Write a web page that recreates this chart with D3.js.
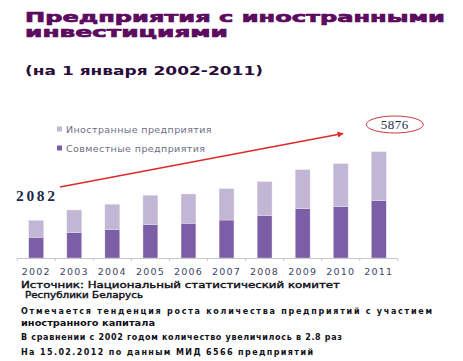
<!DOCTYPE html>
<html><head><meta charset="utf-8">
<script src="https://cdn.jsdelivr.net/npm/d3@7"></script>
<style>body{margin:0;background:#fff}svg{display:block}</style>
</head><body>
<script>
const years = ["2002","2003","2004","2005","2006","2007","2008","2009","2010","2011"];
const joint = [1145,1400,1565,1840,1920,2100,2340,2725,2835,3168];   // Совместные предприятия
const foreign = [937,1253,1403,1626,1618,1731,1878,2156,2378,2708]; // Иностранные предприятия
const seriesNames = ["Совместные предприятия","Иностранные предприятия"];
const startLabel = "2082";
const endLabel = "5876";

const W = 463, H = 361;
const svg = d3.select("body").append("svg").attr("width", W).attr("height", H);
svg.append("rect").attr("width", W).attr("height", H).attr("fill", "#fff");

// Title
const titleColor = "#5c0b5f";
svg.append("text").attr("x", 25).attr("y", 22).text("Предприятия с иностранными")
  .attr("font-family","DejaVu Sans").attr("font-weight","bold").attr("font-size",14.5)
  .attr("fill",titleColor).attr("stroke",titleColor).attr("stroke-width",0.7)
  .attr("textLength",420).attr("lengthAdjust","spacingAndGlyphs");
svg.append("text").attr("x", 25).attr("y", 37).text("инвестициями")
  .attr("font-family","DejaVu Sans").attr("font-weight","bold").attr("font-size",14.5)
  .attr("fill",titleColor).attr("stroke",titleColor).attr("stroke-width",0.7)
  .attr("textLength",203).attr("lengthAdjust","spacingAndGlyphs");
svg.append("text").attr("x", 25).attr("y", 75).text("(на 1 января 2002-2011)")
  .attr("font-family","DejaVu Sans").attr("font-weight","bold").attr("font-size",13)
  .attr("fill","#2a0c38").attr("textLength",238).attr("lengthAdjust","spacingAndGlyphs");

// Scales
const x = d3.scaleBand().domain(years).range([17, 398]).paddingInner(0.61).paddingOuter(0.31);
const y = d3.scaleLinear().domain([0, 6000]).range([258, 149.5]);

const data = years.map((yr,i)=>({year:yr, joint:joint[i], foreign:foreign[i]}));
const stack = d3.stack().keys(["joint","foreign"])(data);
const colors = {joint:"#7c5ea6", foreign:"#c2b6d5"};

svg.append("g").selectAll("g").data(stack).join("g")
  .attr("fill", d => colors[d.key])
  .selectAll("rect").data(d => d).join("rect")
  .attr("x", d => x(d.data.year)).attr("width", x.bandwidth())
  .attr("y", d => y(d[1])).attr("height", d => y(d[0]) - y(d[1]))
  .attr("stroke","#e6e0ee").attr("stroke-width",0.4);

// Axis
const axis = svg.append("g");
axis.append("line").attr("x1",17).attr("x2",398).attr("y1",258.5).attr("y2",258.5)
  .attr("stroke","#c8c8cc").attr("stroke-width",1);
const tickXs = years.map(yr => x(yr) + x.bandwidth()/2 - x.step()/2).concat([x(years[years.length-1]) + x.bandwidth()/2 + x.step()/2]);
axis.selectAll("line.t").data(tickXs).join("line").attr("class","t")
  .attr("x1",d=>d).attr("x2",d=>d).attr("y1",258.5).attr("y2",261)
  .attr("stroke","#c8c8cc");
axis.selectAll("text").data(years).join("text")
  .attr("x", d => x(d) + x.bandwidth()/2).attr("y", 275)
  .attr("text-anchor","middle").text(d=>d)
  .attr("font-family","DejaVu Sans").attr("font-size",9.5)
  .attr("letter-spacing",1.2).attr("fill","#3c4666");

// Legend
const legend = [{name:seriesNames[1], c:colors.foreign, y:129},{name:seriesNames[0], c:colors.joint, y:148}];
legend.forEach(l=>{
  svg.append("rect").attr("x",57).attr("y",l.y-2.5).attr("width",5).attr("height",5).attr("fill",l.c);
  svg.append("text").attr("x",66).attr("y",l.y+3.5).text(l.name)
    .attr("font-family","DejaVu Sans").attr("font-size",9.5).attr("fill","#6e6e85")
    .attr("letter-spacing",0.4);
});

// Arrow
svg.append("defs").append("marker").attr("id","ah").attr("viewBox","0 0 10 10")
  .attr("refX",9).attr("refY",5).attr("markerWidth",8).attr("markerHeight",6)
  .attr("markerUnits","userSpaceOnUse").attr("orient","auto")
  .append("path").attr("d","M0,0L10,5L0,10z").attr("fill","#e02828");
const x0 = x(years[0]) + x.bandwidth()*2.1, y0 = 187;
svg.append("line").attr("x1",x0).attr("y1",y0).attr("x2",343).attr("y2",133.5)
  .attr("stroke","#e02828").attr("stroke-width",1.3).attr("marker-end","url(#ah)");

// Labels
svg.append("text").attr("x",16).attr("y",201).text(startLabel)
  .attr("font-family","Liberation Serif").attr("font-weight","bold").attr("font-size",15.5)
  .attr("fill","#1c2c4c").attr("textLength",39).attr("lengthAdjust","spacing");
const lastX = x(years[years.length-1]) + x.bandwidth()/2;
svg.append("ellipse").attr("cx",lastX+16).attr("cy",124.5).attr("rx",28.5).attr("ry",8.5)
  .attr("fill","none").attr("stroke","#c8343f").attr("stroke-width",1);
svg.append("text").attr("x",lastX+16).attr("y",128.5).attr("text-anchor","middle").text(endLabel)
  .attr("font-family","Liberation Serif").attr("font-size",13).attr("fill","#1c2c4c")
  .attr("letter-spacing",0.5);

// Bottom text
const t = (txt, xx, yy, size, len, weight) => {
  const e = svg.append("text").attr("x",xx).attr("y",yy).text(txt)
    .attr("font-family","DejaVu Sans").attr("font-size",size).attr("font-weight",weight||"bold")
    .attr("fill","#101018");
  if (len) e.attr("textLength",len).attr("lengthAdjust","spacingAndGlyphs");
  return e;
};
t("Источник: Национальный статистический  комитет", 21, 288, 9, 319, "normal").attr("stroke","#101018").attr("stroke-width",0.4);
t("Республики Беларусь", 25, 298, 9, 118, "normal").attr("stroke","#101018").attr("stroke-width",0.4);
svg.append("text").attr("x",21).attr("y",314).text("Отмечается  тенденция  роста  количества  предприятий  с  участием")
  .attr("font-family","DejaVu Sans").attr("font-size",8).attr("font-weight","bold").attr("fill","#101018")
  .attr("textLength",411).attr("lengthAdjust","spacing");
t("иностранного  капитала", 21, 326, 8, 134);
svg.append("text").attr("x",21).attr("y",340).text("В сравнении  с 2002 годом количество   увеличилось  в 2.8 раз")
  .attr("font-family","DejaVu Sans").attr("font-size",8).attr("font-weight","bold").attr("fill","#101018")
  .attr("textLength",321).attr("lengthAdjust","spacing");
svg.append("text").attr("x",21).attr("y",355).text("На 15.02.2012 по данным  МИД  6566 предприятий")
  .attr("font-family","DejaVu Sans").attr("font-size",8).attr("font-weight","bold").attr("fill","#101018")
  .attr("textLength",292).attr("lengthAdjust","spacing");
</script>
</body></html>
